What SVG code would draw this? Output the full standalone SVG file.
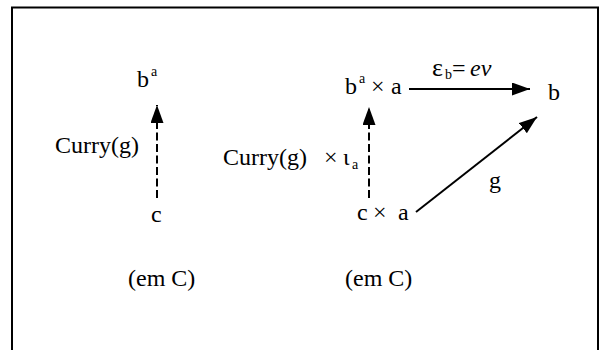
<svg xmlns="http://www.w3.org/2000/svg" width="602" height="350" viewBox="0 0 602 350">
<style>
.t{font-family:"Liberation Serif","Times New Roman",serif;font-size:24px;fill:#000}
.s{font-size:14px}
.i{font-style:italic}
.ln{stroke:#000;stroke-width:2;fill:none}
.d{stroke-dasharray:8 3.5}
</style>
<defs>
<marker id="ah" markerUnits="userSpaceOnUse" markerWidth="18" markerHeight="13" refX="18" refY="6.5" orient="auto" viewBox="0 0 18 13">
<path d="M0,0 L18,6.5 L0,13 z" fill="#000"/>
</marker>
</defs>
<rect x="12" y="7.5" width="586" height="360" fill="none" stroke="#000" stroke-width="2"/>
<g id="left-ba"><text class="t" x="137" y="87">b<tspan class="s" x="151" y="76">a</tspan></text></g>
<g id="left-c"><text class="t" x="151" y="222">c</text></g>
<g id="left-em"><text class="t" x="128" y="286">(em C)</text></g>
<g id="right-bxa"><text class="t" x="345" y="94">b<tspan class="s" x="359" y="83">a</tspan><tspan x="371" y="94">×</tspan><tspan x="391" y="94">a</tspan></text></g>
<g id="right-cxa"><text class="t" x="357" y="220">c<tspan x="373">×</tspan><tspan x="398">a</tspan></text></g>
<g id="right-b"><text class="t" x="548" y="100">b</text></g>
<g id="right-em"><text class="t" x="345" y="286">(em C)</text></g>
<g id="connectors">
<line class="ln d" x1="157" y1="198" x2="157" y2="105" marker-end="url(#ah)"/>
<line class="ln d" x1="369" y1="198" x2="369" y2="107" marker-end="url(#ah)"/>
<line class="ln" x1="409" y1="89" x2="530" y2="89" marker-end="url(#ah)"/>
<line class="ln" x1="416" y1="212" x2="537" y2="117" marker-end="url(#ah)"/>
<text class="t" x="55" y="153">Curry(g)</text>
<text class="t" x="223" y="165">Curry(g)<tspan x="324">×</tspan><tspan x="343">ι</tspan><tspan class="s" x="352" y="169">a</tspan></text>
<text class="t" x="432" y="76"><tspan style="font-size:26px">ε</tspan><tspan class="s" x="445" y="79">b</tspan><tspan x="452" y="76">=</tspan><tspan class="i" x="470" y="76">ev</tspan></text>
<text class="t" x="489" y="188">g</text>
</g>
</svg>
